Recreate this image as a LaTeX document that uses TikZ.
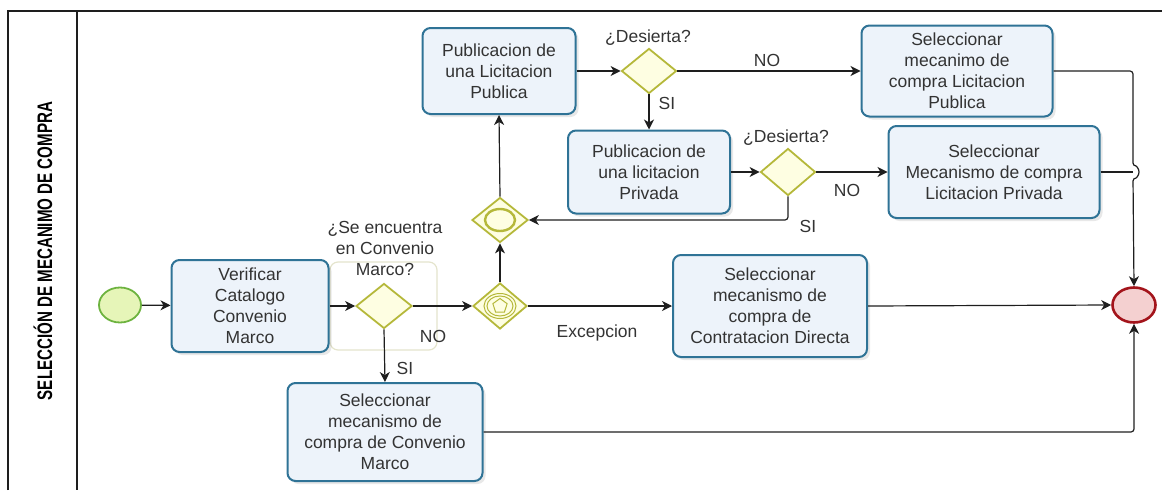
\documentclass[tikz,border=0pt]{standalone}
\usepackage{fontspec}
\setmainfont{Liberation Sans}
\usetikzlibrary{shapes.geometric,arrows.meta,shadows,calc}
\definecolor{taskborder}{HTML}{2F7396}
\definecolor{taskfill}{HTML}{EDF3FA}
\definecolor{gwborder}{HTML}{B5B83A}
\definecolor{gwfill}{HTML}{FEFEE2}
\definecolor{startborder}{HTML}{6DB33F}
\definecolor{startfill}{HTML}{E6F5B8}
\definecolor{endborder}{HTML}{A3141B}
\definecolor{endfill}{HTML}{F4D0D0}
\definecolor{linecol}{HTML}{1E1E1E}
\definecolor{txt}{HTML}{333333}
\definecolor{grp}{HTML}{E4E4CC}
\begin{document}
\begin{tikzpicture}[x=1pt,y=-1pt,
  task/.style={rectangle, rounded corners=8pt, draw=taskborder, line width=2pt,
    fill=taskfill, align=center, inner sep=2pt, text=txt,
    font=\fontsize{17.5}{21}\selectfont,
    drop shadow={opacity=0.18, shadow xshift=3pt, shadow yshift=-3pt}},
  gw/.style={diamond, draw=gwborder, fill=gwfill, line width=1.8pt,
    minimum width=56pt, minimum height=45pt, inner sep=0pt},
  evstart/.style={ellipse, draw=startborder, fill=startfill, line width=1.8pt,
    minimum width=42pt, minimum height=35pt, inner sep=0pt},
  evend/.style={ellipse, draw=endborder, fill=endfill, line width=2.6pt,
    minimum width=43pt, minimum height=35pt, inner sep=0pt},
  lbl/.style={font=\fontsize{17.5}{21}\selectfont, text=txt, inner sep=0pt, align=center},
  flow/.style={draw=linecol, line width=1.2pt, -{Stealth[length=10pt,width=10pt,inset=3pt]}},
  plain/.style={draw=linecol, line width=1.2pt},
  frame/.style={draw=linecol, line width=1.3pt}
]
\useasboundingbox (0,0) rectangle (1162,490);
% frame
\draw[frame] (8,490) -- (8,11) -- (1162,11);
\draw[frame] (77,11) -- (77,490);
\node[rotate=90, inner sep=0pt, text=black] (title) at (43,251)
  {\scalebox{0.72}[1]{\fontsize{21}{21}\selectfont\bfseries SELECCIÓN DE MECANIMO DE COMPRA}};

% faint group behind gateway 1
\draw[grp, line width=1.2pt, rounded corners=8pt] (330,262) rectangle (437,350);

% nodes
\node[evstart] (S) at (120,305) {};
\node[task, minimum width=157pt, minimum height=92pt] (V) at (250,306)
  {Verificar\\Catalogo\\Convenio\\Marco};
\node[gw] (G1) at (384,306) {};
\node[lbl] (G1l) at (385,248) {¿Se encuentra\\en Convenio\\Marco?};
\node[task, minimum width=195pt, minimum height=98pt] (CM) at (385,432)
  {Seleccionar\\mecanismo de\\compra de Convenio\\Marco};
\node[gw, minimum width=54pt, minimum height=46pt] (G2) at (500,306) {};
\node[task, minimum width=194pt, minimum height=102pt] (CD) at (770,306)
  {Seleccionar\\mecanismo de\\compra de\\Contratacion Directa};
\node[evend] (E) at (1134,305) {};
\node[gw] (G3) at (500,220) {};
\node[task, minimum width=153pt, minimum height=86pt] (PP) at (499,71)
  {Publicacion de\\una Licitacion\\Publica};
\node[gw, minimum width=55pt] (D1) at (649,71) {};
\node[lbl] (D1l) at (648,38) {¿Desierta?};
\node[task, minimum width=162pt, minimum height=83pt] (PV) at (649,172)
  {Publicacion de\\una licitacion\\Privada};
\node[gw, minimum width=55pt, minimum height=47pt] (D2) at (788,172) {};
\node[lbl] (D2l) at (786,138) {¿Desierta?};
\node[task, minimum width=191pt, minimum height=91pt] (LP) at (957,71)
  {Seleccionar\\mecanimo de\\compra Licitacion\\Publica};
\node[task, minimum width=211pt, minimum height=92pt] (LV) at (994,172)
  {Seleccionar\\Mecanismo de compra\\Licitacion Privada};

% gateway markers
\draw[gwborder, line width=1pt] (G2.center) ellipse[x radius=16pt, y radius=12.5pt];
\draw[gwborder, line width=1pt] (G2.center) ellipse[x radius=13pt, y radius=10pt];
\node[regular polygon, regular polygon sides=5, draw=gwborder, line width=1pt,
  minimum size=15pt, inner sep=0pt] (G2p) at (G2.center) {};
\draw[gwborder, line width=2.4pt] (G3.center) ellipse[x radius=15pt, y radius=11pt];

% connectors
\draw[flow] (S) -- (V);
\draw[flow] (V) -- (G1);
\draw[flow] (G1.east) -- (G2.west);
\node[lbl] (noA) at (433,336) {NO};
\draw[flow] (G1.south) -- (CM.north);
\node[lbl] (siA) at (405,368) {SI};
\draw[flow] (G2.east) -- (CD.west);
\node[lbl] (exc) at (597,333) {Excepcion};
\draw[flow] (G2.north) -- (G3.south);
\draw[flow] (G3.north) -- (PP.south);
\draw[flow] (PP.east) -- (D1.west);
\draw[flow] (D1.east) -- (LP.west);
\node[lbl] (noB) at (767,60) {NO};
\draw[flow] (D1.south) -- (PV.north);
\node[lbl] (siB) at (667,103) {SI};
\draw[flow] (PV.east) -- (D2.west);
\draw[flow] (D2.east) -- (LV.west);
\node[lbl] (noC) at (847,190) {NO};
\draw[flow, rounded corners=3pt] (D2.south) -- (788,220) -- (G3.east);
\node[lbl] (siC) at (808,226) {SI};
\coordinate (hopA) at (1133,166);
\draw[flow, rounded corners=3pt] (LP.east) -- (1133,71) -- (hopA)
  arc[start angle=90, end angle=-90, radius=6pt] -- (E.north);
\coordinate (hopM) at (1133,172);
\draw[plain] (LV.east) -- (hopM);
\draw[flow] (CD.east) -- (E.west);
\draw[flow, rounded corners=3pt] (CM.east) -- (1134,432) -- (E.south);
\end{tikzpicture}
\end{document}
